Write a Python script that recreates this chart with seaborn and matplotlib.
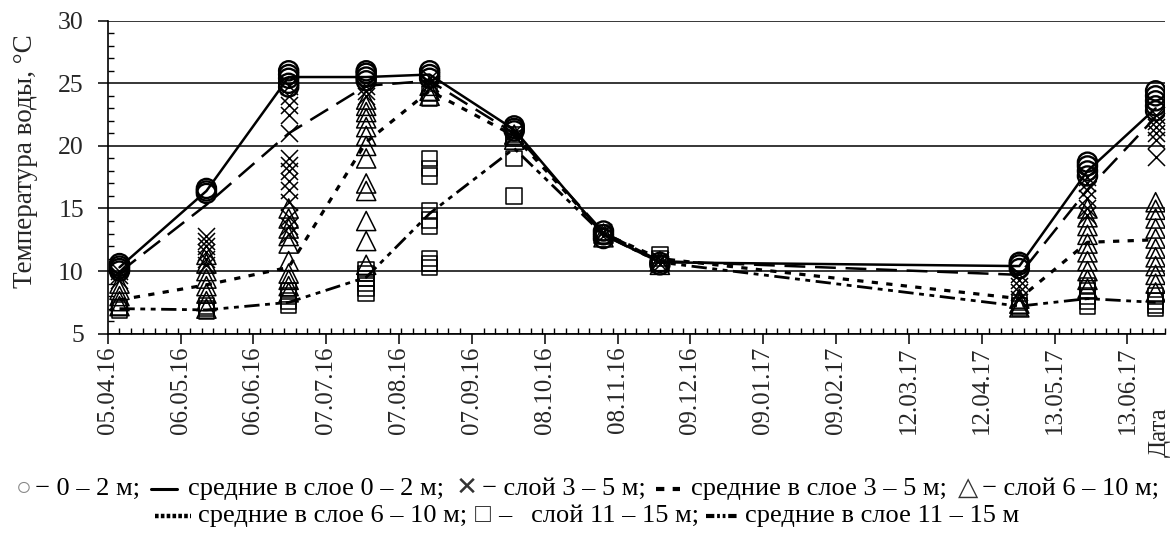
import matplotlib
matplotlib.use("Agg")
import matplotlib.pyplot as plt
import matplotlib.dates as mdates
from matplotlib.lines import Line2D
import numpy as np
import pandas as pd
import seaborn as sns

# sampling dates
dates = ["2016-04-10", "2016-05-17", "2016-06-21", "2016-07-24", "2016-08-20",
         "2016-09-25", "2016-11-02", "2016-11-26", "2017-04-28", "2017-05-27",
         "2017-06-25"]

# individual measurements per date, one list per layer
layer_0_2 = [[10.0, 10.2, 10.4, 10.6], [16.2, 16.4, 16.6], [24.7, 25.0, 25.4, 25.7, 26.0],
             [25.2, 25.5, 25.8, 26.0], [25.4, 25.7, 26.0], [21.2, 21.4, 21.6],
             [12.6, 12.9, 13.2], [10.5, 10.7], [10.2, 10.5, 10.7],
             [17.6, 18.0, 18.4, 18.7], [22.8, 23.2, 23.6, 24.0, 24.4]]
layer_3_5 = [[9.3, 9.7, 10.0], [10.5, 11.0, 11.5, 12.0, 12.4, 12.8],
             [13.0, 13.6, 14.3, 15.5, 16.5, 17.2, 18.0, 18.5, 19.0, 21.0, 22.5, 23.3, 24.0, 24.8],
             [24.0, 24.4, 24.8], [24.6, 25.0, 25.4], [20.8, 21.1], [12.8, 13.1],
             [10.6, 10.9], [7.8, 8.3, 8.8, 9.3, 9.8], [14.5, 15.0, 15.8, 16.5, 17.0, 17.5],
             [19.1, 20.5, 21.0, 21.5, 22.0, 22.5]]
layer_6_10 = [[7.2, 7.6, 8.0, 8.5, 9.0], [7.0, 7.6, 8.2, 8.8, 9.4, 10.0, 10.6, 11.3],
              [8.3, 8.8, 9.3, 9.8, 10.8, 12.2, 12.8, 13.4, 14.2, 15.0],
              [10.5, 12.4, 14.0, 16.4, 17.0, 19.0, 20.0, 20.8, 21.5, 22.2, 22.7, 23.2, 23.7],
              [24.0, 24.4, 24.8], [20.5, 20.9], [12.7, 13.0], [10.5, 10.8], [7.1, 7.4, 7.8],
              [8.6, 9.3, 10.0, 10.8, 11.5, 12.2, 12.9, 13.6, 14.3, 15.0],
              [8.3, 9.0, 9.7, 10.4, 11.1, 11.8, 12.6, 13.4, 14.2, 14.9, 15.5]]
layer_11_15 = [[6.9, 7.1], [6.8, 7.0, 7.2], [7.3, 7.6, 8.0, 8.4], [8.2, 8.6, 9.0, 9.4, 9.8, 10.1],
               [10.3, 10.6, 11.0, 13.6, 14.1, 14.8, 17.6, 18.2, 19.0, 23.8, 24.2],
               [16.0, 19.0, 20.6, 20.9], [12.8, 13.1], [10.6, 11.0, 11.3], [7.0, 7.2, 7.5],
               [7.2, 7.6, 8.0, 8.4, 8.8], [7.0, 7.3, 7.6, 8.0]]

# layer means
mean_0_2 = [10.3, 16.4, 25.5, 25.5, 25.7, 21.3, 12.9, 10.7, 10.4, 18.0, 23.0]
mean_3_5 = [9.9, 15.3, 21.0, 24.8, 25.2, 21.0, 13.1, 10.8, 9.7, 16.5, 22.3]
mean_6_10 = [7.7, 8.9, 10.3, 20.3, 24.4, 20.8, 13.0, 11.0, 7.8, 12.3, 12.5]
mean_11_15 = [7.0, 6.9, 7.5, 9.5, 14.6, 19.8, 12.9, 10.7, 7.2, 7.8, 7.5]

tick_labels = ["05.04.16", "06.05.16", "06.06.16", "07.07.16", "07.08.16", "07.09.16",
               "08.10.16", "08.11.16", "09.12.16", "09.01.17", "09.02.17", "12.03.17",
               "12.04.17", "13.05.17", "13.06.17"]

sns.set_style("ticks")
plt.rcParams["font.family"] = ["Liberation Serif", "DejaVu Sans"]
plt.rcParams["lines.scale_dashes"] = False

x = mdates.date2num(pd.to_datetime(dates))


def long_df(values):
    rows = [(xi, v) for xi, vals in zip(x, values) for v in vals]
    return pd.DataFrame(rows, columns=["date", "temp"])


fig = plt.figure(figsize=(11.75, 5.35), dpi=100)
ax = fig.add_axes([0.0917, 0.3763, 0.8998, 0.5850])

# mean lines
styles = {
    "solid": dict(linestyle="-", lw=1.8),
    "dash": dict(linestyle=(0, (15, 7)), lw=1.8),
    "dot": dict(linestyle=(0, (4.5, 6)), lw=2.3),
    "dashdot": dict(linestyle=(0, (11, 4, 3.5, 4, 3.5, 4)), lw=2.0),
}
for means, st in zip([mean_0_2, mean_3_5, mean_6_10, mean_11_15], styles.values()):
    sns.lineplot(x=x, y=means, ax=ax, color="black", errorbar=None, sort=False, **st)

# individual points
sns.scatterplot(data=long_df(layer_11_15), x="date", y="temp", ax=ax, marker="s", s=125,
                color="black", facecolor="none", edgecolor="black", linewidth=1.1, zorder=3)
sns.scatterplot(data=long_df(layer_6_10), x="date", y="temp", ax=ax, marker="^", s=190,
                color="black", facecolor="none", edgecolor="black", linewidth=1.1, zorder=3)
sns.scatterplot(data=long_df(layer_3_5), x="date", y="temp", ax=ax, marker="x", s=150,
                color="black", linewidth=1.1, zorder=3)
sns.scatterplot(data=long_df(layer_0_2), x="date", y="temp", ax=ax, marker="o", s=190,
                color="black", facecolor="none", edgecolor="black", linewidth=1.7, zorder=3)

start = mdates.date2num(pd.Timestamp("2016-04-05"))
ax.set_xlim(start, start + 450)
ax.set_ylim(5, 30)
tick_pos = mdates.date2num(pd.to_datetime(tick_labels, format="%d.%m.%y"))
ax.set_xticks(tick_pos)
ax.set_xticklabels(tick_labels, rotation=90, fontsize=18)
ax.set_xticks(np.arange(start, start + 451, 5), minor=True)
ax.set_yticks(np.arange(5, 31, 5))
ax.set_yticklabels([str(v) for v in range(5, 31, 5)], fontsize=18.5)
ax.set_yticks(np.arange(5, 31, 1), minor=True)
ax.tick_params(which="major", direction="out", length=7.2, width=1.1, color="black")
ax.tick_params(which="minor", direction="in", length=4.5, width=1.0, color="black")
ax.tick_params(axis="x", which="major", pad=2)
ax.tick_params(axis="y", which="major", pad=10)
ax.set_xlabel("")
ax.set_ylabel("Температура воды, °C", fontsize=19.5)
ax.yaxis.set_label_coords(-0.066, 0.55)
ax.yaxis.grid(True, which="major", color="black", lw=1.1)
ax.set_axisbelow(True)
sns.despine(ax=ax)
for sp in ["left", "bottom"]:
    ax.spines[sp].set_linewidth(1.2)
    ax.spines[sp].set_color("black")

fig.text(1160 / 1175, 1 - 432 / 535, "Дата", rotation=90, ha="center", va="center", fontsize=18)

# legend built as a text row with line samples
W, H = fig.bbox.width, fig.bbox.height
renderer = fig.canvas.get_renderer()
LFS = 19


def legend_row(items, yc):
    placed = []
    pos = 0.0
    for kind, val in items:
        if kind == "gap":
            pos += val
        elif kind == "line":
            placed.append(("line", pos, val))
            pos += val[2]
        else:
            txt, col = val
            t = fig.text(0, 1 - yc / H, txt, fontsize=LFS, color=col, ha="left", va="center")
            placed.append(("text", pos, t))
            pos += t.get_window_extent(renderer).width
    x0 = (W - pos) / 2
    for kind, p, obj in placed:
        if kind == "text":
            obj.set_x((x0 + p) / W)
        else:
            ls, lw, length = obj
            fig.add_artist(Line2D([(x0 + p) / W, (x0 + p + length) / W], [1 - yc / H] * 2,
                                  transform=fig.transFigure, color="black", lw=lw, linestyle=ls))


G1 = 11
G2 = 7
row1 = [("text", ("○", "#888888")), ("gap", 4), ("text", ("− 0 – 2 м;", "black")), ("gap", G1),
        ("line", ("-", 2.2, 26)), ("gap", G1), ("text", ("средние в слое 0 – 2 м;", "black")),
        ("gap", G1), ("text", ("✕", "#333333")), ("gap", 4), ("text", ("− слой 3 – 5 м;", "black")),
        ("gap", G1), ("line", ((0, (6, 6)), 3.0, 24)), ("gap", G1),
        ("text", ("средние в слое 3 – 5 м;", "black")), ("gap", G1), ("text", ("△", "#333333")),
        ("gap", 4), ("text", ("− слой 6 – 10 м;", "black"))]
row2 = [("line", ((0, (2.6, 1.6)), 3.2, 36)), ("gap", G2),
        ("text", ("средние в слое 6 – 10 м;", "black")), ("gap", G2), ("text", ("□", "#333333")),
        ("gap", 8), ("text", ("–   слой 11 – 15 м;", "black")), ("gap", G2),
        ("line", ((0, (6, 2, 2, 2, 2, 2)), 3.0, 32)), ("gap", G2),
        ("text", ("средние в слое 11 – 15 м", "black"))]
legend_row(row1, 489)
legend_row(row2, 516)

fig.savefig("out.png", dpi=100)
